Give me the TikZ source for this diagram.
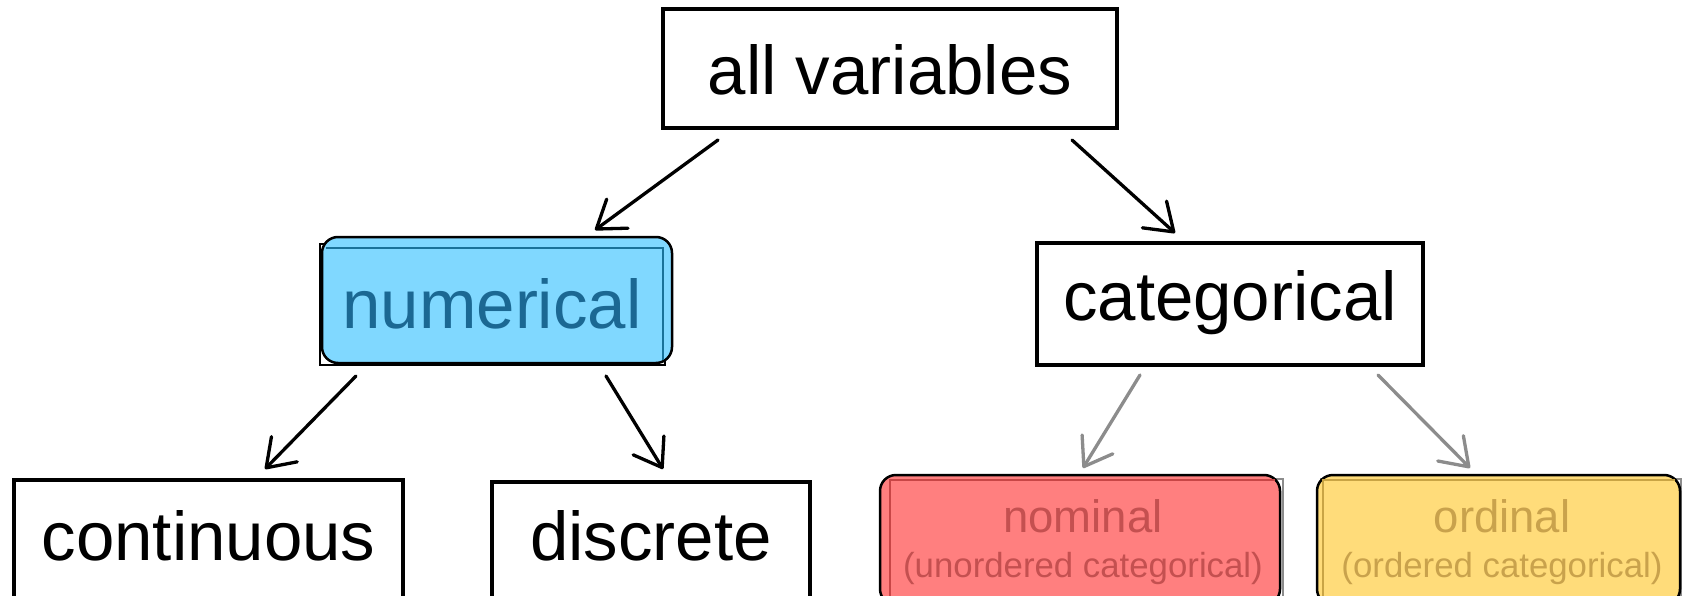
\documentclass[tikz,border=0pt]{standalone}
\usepackage{fontspec}
\setmainfont{Liberation Sans}
\usetikzlibrary{arrows.meta,calc}
\definecolor{numfill}{HTML}{80D8FF}
\definecolor{numedge}{HTML}{1A7299}
\definecolor{numtext}{HTML}{1B6893}
\definecolor{nomfill}{HTML}{FF7F7F}
\definecolor{nomedge}{HTML}{C84646}
\definecolor{nomtext}{HTML}{C45050}
\definecolor{ordfill}{HTML}{FFDC7A}
\definecolor{ordedge}{HTML}{C9A445}
\definecolor{ordtext}{HTML}{C9A24C}
\definecolor{fade}{HTML}{8C8C8C}
\begin{document}
\begin{tikzpicture}[x=1pt,y=-1pt,
  box/.style={draw=black, line width=4pt, fill=white, inner sep=0pt, outer sep=0pt,
    anchor=north west, font=\fontsize{69pt}{80pt}\selectfont},
  softbox/.style={draw=black, line width=2.5pt, rounded corners=16pt, inner sep=0pt,
    outer sep=0pt, anchor=north west},
  bigtext/.style={font=\fontsize{69pt}{80pt}\selectfont},
  midtext/.style={inner sep=0pt, anchor=base, font=\fontsize{45.5pt}{52pt}\selectfont},
  smalltext/.style={inner sep=0pt, anchor=base, font=\fontsize{34.8pt}{40pt}\selectfont},
  link/.style={line width=3.3pt, line cap=round, line join=round,
    -{Straight Barb[length=26pt,width=36pt,line cap=round,line join=round]}},
  fadelink/.style={link, draw=fade},
  edgeline/.style={line width=2.5pt},
]
\clip (0,0) rectangle (1688,596);
\fill[white] (0,0) rectangle (1688,596);

% root
\node[box, minimum width=454pt, text height=86pt, text depth=33pt] (all) at (663,9) {all variables};

% numerical: sharp frame beneath a rounded highlight
\draw[line width=2pt] (320,244) rectangle (665,365);
\node[softbox, fill=numfill, text=numtext, bigtext, minimum width=350pt,
      text height=91pt, text depth=35pt] (num) at (322,237) {numerical\kern10pt};
\draw[numedge, edgeline] ($(num.north west)+(4,11)$) -- ($(num.north east)+(-9,11)$)
  -- ($(num.south east)+(-9,-3)$);

% categorical
\node[box, minimum width=386pt, text height=77pt, text depth=45pt] (cat) at (1037,243) {categorical};

% numerical leaves
\node[box, minimum width=389pt, text height=80pt, text depth=40pt] (cont) at (14,480) {continuous};
\node[box, minimum width=318pt, text height=78pt, text depth=40pt] (disc) at (492,482) {discrete};

% nominal
\draw[fade, line width=2pt] (886,479) rectangle (1283,605);
\node[softbox, fill=nomfill, minimum width=400pt, minimum height=130pt] (nom) at (880,475) {};
\draw[nomedge, edgeline] ($(nom.south west)+(10,0)$) -- ($(nom.north west)+(10,5)$)
  -- ($(nom.north east)+(-5,5)$);
\node[midtext, text=nomtext] (nomA) at (1083,532) {nominal};
\node[smalltext, text=nomtext] (nomB) at (1083,577) {(unordered categorical)};

% ordinal
\draw[fade, line width=2pt] (1321,479) rectangle (1681,605);
\node[softbox, fill=ordfill, minimum width=363pt, minimum height=130pt] (ord) at (1317,475) {};
\draw[ordedge, edgeline] ($(ord.south west)+(6,0)$) -- ($(ord.north west)+(6,5)$)
  -- ($(ord.north east)+(-5,5)$);
\node[midtext, text=ordtext] (ordA) at (1502,532) {ordinal};
\node[smalltext, text=ordtext] (ordB) at (1502,577) {(ordered categorical)};

% connectors
\draw[link] ($(all.south west)+(55,12)$) -- ($(num.north west)+(273,-7)$);
\draw[link] ($(all.south east)+(-45,12)$) -- ($(cat.north west)+(138,-10)$);
\draw[link] ($(num.south west)+(34,13)$) -- ($(cont.north west)+(251,-11)$);
\draw[link] ($(num.south west)+(284,13)$) -- ($(disc.north west)+(171,-13)$);
\draw[fadelink] ($(cat.south west)+(103,10)$) -- ($(nom.north west)+(203,-7)$);
\draw[fadelink] ($(cat.south west)+(341,10)$) -- ($(ord.north west)+(153,-7)$);
\end{tikzpicture}
\end{document}
